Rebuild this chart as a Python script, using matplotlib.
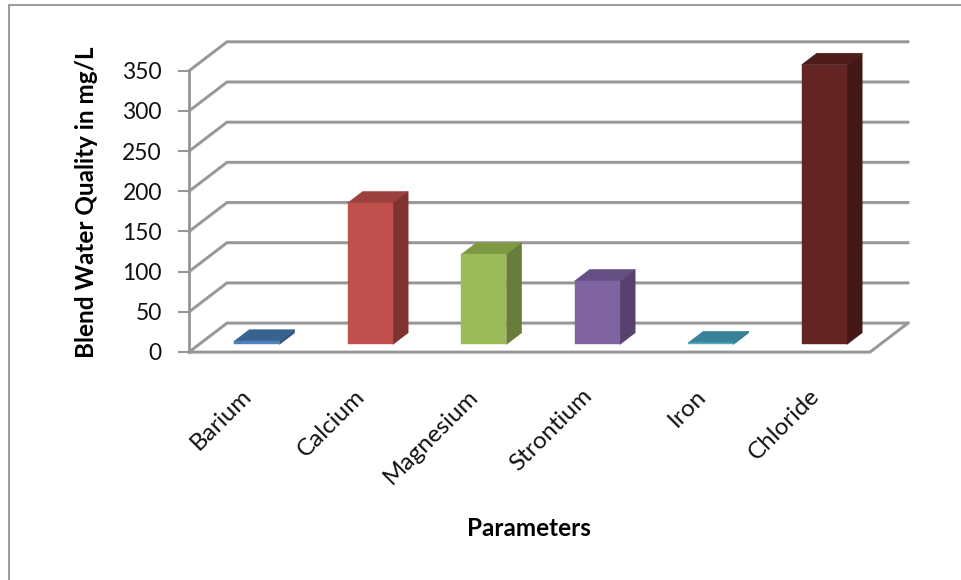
import matplotlib
matplotlib.use("Agg")
import matplotlib.pyplot as plt
import numpy as np
from matplotlib.patches import Rectangle
from matplotlib.transforms import ScaledTranslation

# ========================================= Data ====================================================== #
categories = ["Barium", "Calcium", "Magnesium", "Strontium", "Iron", "Chloride"]
values = [4, 176, 112, 79, 2, 348]
y_ticks = [0, 50, 100, 150, 200, 250, 300, 350]

front_colors = ["#4F81BD", "#C0504D", "#9BBB59", "#8064A2", "#4BACC6", "#632523"]
top_colors = ["#3A6291", "#9C403D", "#7D9A42", "#664F84", "#3A8299", "#4D1B19"]
side_colors = ["#2F5481", "#7F3331", "#687D3B", "#56426D", "#2F7286", "#431816"]

# ========================================= Layout ==================================================== #
W, H = 961, 580
LEFT, RIGHT, BOTTOM, TOP = 189, 870, 352, 70.7
GRID = "#969696"
plt.rcParams["font.family"] = ["Lato", "DejaVu Sans"]

# depth of the 3D box, in data units
DEPTH_X = 38 / ((RIGHT - LEFT) / 6)
DEPTH_Y = 29 / ((BOTTOM - TOP) / 350)
BAR_WIDTH = 0.40
BAR_T0, BAR_T1 = 0.26, 0.66


def proj(x, v, t):
	return x + t * DEPTH_X, v + t * DEPTH_Y


def wall_line(ax, v):
	xs = [proj(0, v, 0)[0], proj(0, v, 1)[0], proj(6, v, 1)[0]]
	ys = [proj(0, v, 0)[1], proj(0, v, 1)[1], proj(6, v, 1)[1]]
	# faint shadow under the line
	ax.plot(xs, np.array(ys) - 1.5, color="#E4E4E4", lw=1.5, clip_on=False, zorder=1, solid_joinstyle="miter")
	ax.plot(xs, ys, color=GRID, lw=2, clip_on=False, zorder=2, solid_joinstyle="miter")


def draw_bar(ax, i, v):
	x0 = i + 0.5 - BAR_WIDTH / 2 + 0.01
	x1 = x0 + BAR_WIDTH
	a = proj(x0, 0, BAR_T0)
	b = proj(x1, 0, BAR_T0)
	c = proj(x1, v, BAR_T0)
	d = proj(x0, v, BAR_T0)
	e = proj(x0, v, BAR_T1)
	f = proj(x1, v, BAR_T1)
	g = proj(x1, 0, BAR_T1)
	for pts, col in [([d, c, f, e], top_colors[i]), ([b, g, f, c], side_colors[i]), ([a, b, c, d], front_colors[i])]:
		ax.fill([p[0] for p in pts], [p[1] for p in pts], color=col, lw=0.3, clip_on=False, zorder=5)


# ========================================= Plot ====================================================== #
fig = plt.figure(figsize=(W / 100, H / 100), dpi=100)
ax = fig.add_axes([LEFT / W, 1 - BOTTOM / H, (RIGHT - LEFT) / W, (BOTTOM - TOP) / H])
ax.set_xlim(0, 6)
ax.set_ylim(0, 350)
ax.patch.set_alpha(0)

for v in y_ticks:
	wall_line(ax, v)

# floor front and right edge
fx = [0, 6, proj(6, 0, 1)[0]]
fy = [0, 0, proj(6, 0, 1)[1]]
ax.plot(fx, np.array(fy) - 1.5, color="#E4E4E4", lw=1.5, clip_on=False, zorder=1)
ax.plot(fx, fy, color=GRID, lw=2, clip_on=False, zorder=2, solid_joinstyle="miter")

for i, v in enumerate(values):
	draw_bar(ax, i, v)

for s in ["top", "right", "bottom"]:
	ax.spines[s].set_visible(False)
ax.spines["left"].set_color(GRID)
ax.spines["left"].set_linewidth(2)

ax.set_yticks(y_ticks)
ax.set_yticklabels([str(t) for t in y_ticks], fontsize=16.5, color="#111111")
ax.tick_params(axis="y", color=GRID, width=1.5, length=8, pad=11.5)

ax.set_xticks(np.arange(len(categories)) + 0.5)
ax.set_xticklabels(categories, rotation=45, ha="right", va="top", rotation_mode="anchor", fontsize=17.5, color="#111111")
ax.tick_params(axis="x", length=0, pad=24)
# nudge the slanted labels left a little
nudge = ScaledTranslation(-5 / 100, 0, fig.dpi_scale_trans)
for lab in ax.get_xticklabels():
	lab.set_transform(lab.get_transform() + nudge)

fig.text(87 / W, 1 - 202 / H, "Blend Water Quality in mg/L", rotation=90, fontsize=17.5, fontweight="bold", ha="center", va="center", color="black")
fig.text(529 / W, 1 - 529 / H, "Parameters", fontsize=17.5, fontweight="bold", ha="center", va="center", color="black")

# outer frame, only top and left show in the crop
fig.add_artist(Rectangle((8.5 / W, -0.1), 1.1, 1.1 - 5.5 / H + 0, transform=fig.transFigure, fill=False, edgecolor="#8A8A8A", lw=1.2))

fig.savefig("out.png", dpi=100)
